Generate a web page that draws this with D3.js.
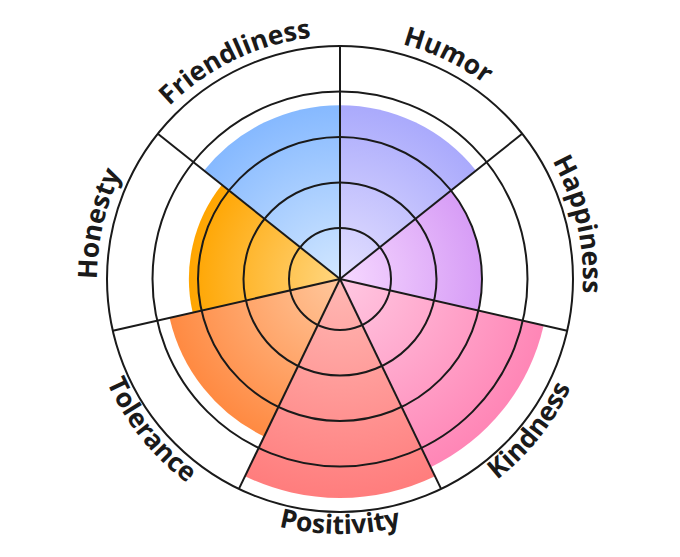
<!DOCTYPE html>
<html>
<head>
<meta charset="utf-8">
<script src="https://cdn.jsdelivr.net/npm/d3@7"></script>
<style>
  body { margin: 0; background: #fff; }
  text { font-family: "Open Sans", sans-serif; font-weight: 700; }
</style>
</head>
<body>
<svg id="chart" width="680" height="557"></svg>
<script>
// categories, clockwise from 12 o'clock
var categories = ["Humor", "Happiness", "Kindness", "Positivity", "Tolerance", "Honesty", "Friendliness"];
var values = [3.7, 3.0, 4.47, 4.69, 3.72, 3.2, 3.7];
var innerColors = ["#e4e0ff", "#f6d8ff", "#ffc8e2", "#ffb8b4", "#ffc79c", "#ffd680", "#d2e7ff"];
var outerColors = ["#aaaafc", "#d79df6", "#ff86b6", "#ff7d7d", "#ff8a42", "#ffa500", "#86b9ff"];
var ringTicks = [1, 2, 3, 4, 5];

var svg = d3.select("#chart"),
    width = +svg.attr("width"),
    height = +svg.attr("height");

var cx = 340, cy = 279;

var r = d3.scaleLinear()
    .domain([0, 5])
    .range([5.5, 233]);

var n = categories.length;
var angle = d3.scaleLinear()
    .domain([0, n])
    .range([0, 2 * Math.PI]);

var g = svg.append("g")
    .attr("transform", "translate(" + cx + "," + cy + ")");

var defs = svg.append("defs");

// one radial gradient per slice
categories.forEach(function(c, i) {
  var grad = defs.append("radialGradient")
      .attr("id", "grad" + i)
      .attr("gradientUnits", "userSpaceOnUse")
      .attr("cx", 0).attr("cy", 0)
      .attr("r", r(values[i]));
  grad.append("stop").attr("offset", "0%").attr("stop-color", innerColors[i]);
  grad.append("stop").attr("offset", "100%").attr("stop-color", outerColors[i]);
});

var arc = d3.arc()
    .innerRadius(0)
    .outerRadius(function(d) { return r(d.value); })
    .startAngle(function(d) { return angle(d.index); })
    .endAngle(function(d) { return angle(d.index + 1); });

var data = categories.map(function(c, i) { return {name: c, value: values[i], index: i}; });

g.append("g")
    .attr("class", "slices")
  .selectAll("path")
    .data(data)
  .enter().append("path")
    .attr("d", arc)
    .attr("fill", function(d) { return "url(#grad" + d.index + ")"; });

// grid rings
g.append("g")
    .attr("class", "rings")
  .selectAll("circle")
    .data(ringTicks)
  .enter().append("circle")
    .attr("r", function(d) { return r(d); })
    .attr("fill", "none")
    .attr("stroke", "#1a1a1a")
    .attr("stroke-width", 2);

// spokes
g.append("g")
    .attr("class", "spokes")
  .selectAll("line")
    .data(d3.range(n))
  .enter().append("line")
    .attr("x1", 0).attr("y1", 0)
    .attr("x2", function(i) { return r(5) * Math.sin(angle(i)); })
    .attr("y2", function(i) { return -r(5) * Math.cos(angle(i)); })
    .attr("stroke", "#1a1a1a")
    .attr("stroke-width", 2);

// curved labels
function pt(a, rad) { return [rad * Math.sin(a), -rad * Math.cos(a)]; }

data.forEach(function(d) {
  var a0 = angle(d.index), a1 = angle(d.index + 1);
  var mid = (a0 + a1) / 2;
  var flip = mid > Math.PI / 2 && mid < 3 * Math.PI / 2;
  var rad = flip ? 255 : 243;
  var p0 = pt(a0, rad), p1 = pt(a1, rad), p;
  if (!flip) {
    p = "M" + p0[0] + "," + p0[1] + " A" + rad + "," + rad + " 0 0 1 " + p1[0] + "," + p1[1];
  } else {
    p = "M" + p1[0] + "," + p1[1] + " A" + rad + "," + rad + " 0 0 0 " + p0[0] + "," + p0[1];
  }
  defs.append("path").attr("id", "lbl" + d.index).attr("d", p);
  g.append("text")
      .attr("font-size", 26.5)
      .attr("fill", "#1a1a1a")
    .append("textPath")
      .attr("href", "#lbl" + d.index)
      .attr("startOffset", "50%")
      .attr("text-anchor", "middle")
      .text(d.name);
});
</script>
</body>
</html>
